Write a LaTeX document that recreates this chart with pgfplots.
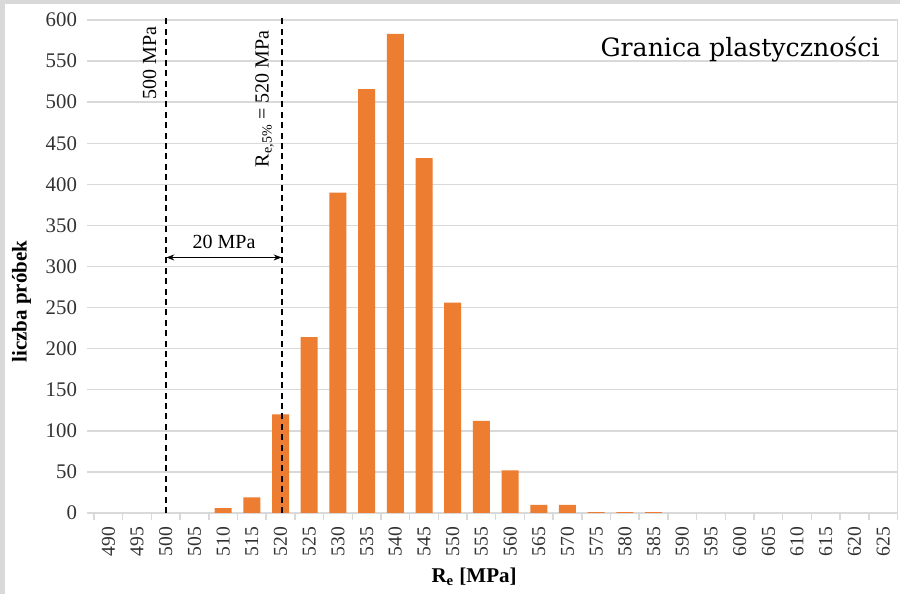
\documentclass[border=0pt]{standalone}
\usepackage{fontspec}
\setmainfont{Liberation Serif}
\newfontfamily\slabfont{DejaVu Serif}
\usepackage{pgfplots}
\pgfplotsset{compat=1.18}
\usetikzlibrary{arrows.meta}
\definecolor{barorange}{RGB}{237,125,49}
\definecolor{gridgray}{RGB}{217,217,217}
\definecolor{framegray}{RGB}{217,217,217}
\begin{document}
\begin{tikzpicture}
\fill[framegray] (-47pt,-40.5pt) rectangle (403pt,256.5pt);
\fill[white] (-44.5pt,-40.5pt) rectangle (403pt,254.5pt);
\begin{axis}[
  at={(0,0)}, anchor=south west,
  scale only axis, width=401.75pt, height=246.5pt,
  xmin=487.5, xmax=627.5, ymin=0, ymax=600,
  clip=false,
  /pgf/number format/assume math mode=true,
  xtick={490,495,...,625},
  minor xtick={487.5,492.5,...,627.5},
  ytick={0,50,...,600},
  ymajorgrids, grid style={color=gridgray, line width=0.75pt},
  axis x line*=bottom, axis y line*=left,
  y axis line style={draw=none},
  x axis line style={color=gridgray, line width=0.75pt},
  tick align=outside,
  major tick length=3.5pt, minor tick length=3.5pt,
  major x tick style={draw=none},
  minor x tick style={color=gridgray, line width=0.75pt},
  major y tick style={color=gridgray, line width=0.75pt},
  xticklabel style={rotate=90, anchor=east, font=\fontsize{9.8}{10}\selectfont, text=black!80},
  yticklabel style={font=\fontsize{10.4}{11}\selectfont, text=black!80, xshift=-1.5pt},
  xlabel={\textbf{R\textsubscript{e} [MPa]}},
  xlabel style={at={(axis description cs:0.473,-0.13)}, anchor=center, font=\fontsize{10.5}{12}\selectfont},
  ylabel={\textbf{liczba próbek}},
  ylabel style={at={(axis description cs:-0.09,0.429)}, anchor=center, font=\fontsize{10.5}{12}\selectfont},
  ybar, bar width=2.96,
]
% classes with zero count (490-505, 590-625) are not drawn
\addplot[fill=barorange, draw=none] coordinates {
(510,6) (515,19) (520,120) (525,214)
(530,390) (535,516) (540,583) (545,432) (550,256) (555,112) (560,52)
(565,10) (570,10) (575,1) (580,1) (585,1)
};
\draw[black, line width=0.85pt, dash pattern=on 3pt off 2.2pt] (axis cs:500.1,0) -- (axis cs:500.1,603);
\draw[black, line width=0.85pt, dash pattern=on 3pt off 2.2pt] (axis cs:520.2,0) -- (axis cs:520.2,603);
\draw[black, line width=0.6pt, {Stealth[length=4pt,width=3pt]}-{Stealth[length=4pt,width=3pt]}] (axis cs:500.1,311) -- (axis cs:520.2,311);
\node[font=\fontsize{10}{12}\selectfont, anchor=base] at (axis cs:510.15,322) {20 MPa};
\node[rotate=90, anchor=east, inner sep=0pt, font=\fontsize{10}{12}\selectfont] at (axis cs:497.2,592) {500 MPa};
\node[rotate=90, anchor=east, inner sep=0pt, font=\fontsize{10}{12}\selectfont] at (axis cs:517.2,588) {R\textsubscript{e,5\%} = 520 MPa};
\draw[gridgray, line width=0.5pt] (rel axis cs:1,0) -- (rel axis cs:1,1);
\end{axis}
\node[anchor=base east, inner sep=0pt, font=\slabfont\fontsize{12.6}{14}\selectfont] at (393pt,228pt) {Granica plastyczności};
\pgfresetboundingbox
\path (-47pt,-40.5pt) rectangle (403pt,256.5pt);
\end{tikzpicture}
\end{document}
